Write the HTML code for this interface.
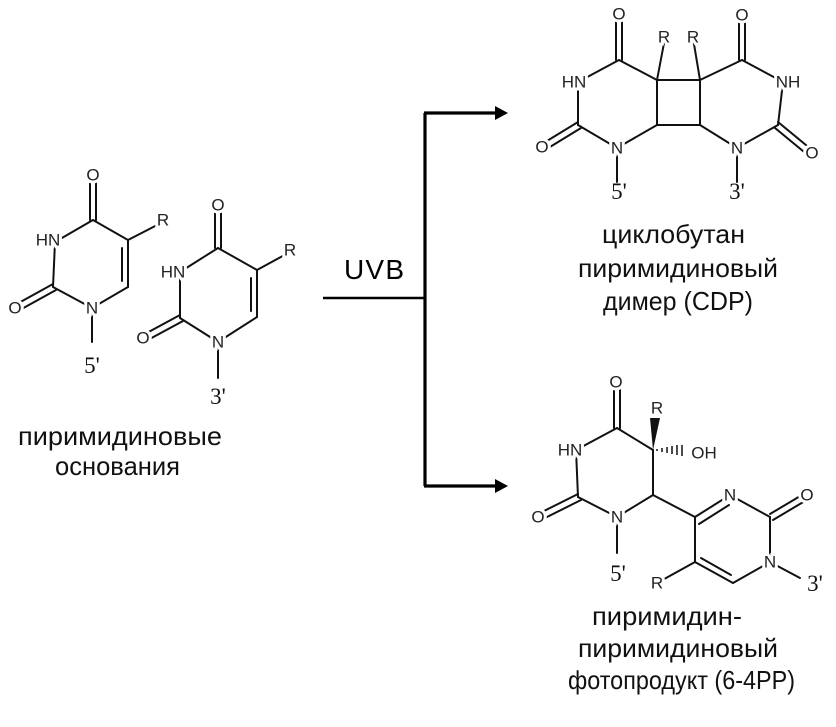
<!DOCTYPE html>
<html><head><meta charset="utf-8"><style>
html,body{margin:0;padding:0;background:#fff}
svg{display:block}
.b{stroke:#111;stroke-width:2;fill:none;stroke-linecap:round}
.a{font-family:"Liberation Sans",sans-serif;font-size:17px;fill:#222;stroke:#fff;stroke-width:6;paint-order:stroke;text-anchor:middle;dominant-baseline:central}
.p{font-family:"Liberation Serif",serif;font-size:23px;fill:#111;text-anchor:middle}
.t{font-family:"Liberation Sans",sans-serif;font-size:26px;fill:#111}
</style></head><body>
<svg width="836" height="727" viewBox="0 0 836 727" xmlns="http://www.w3.org/2000/svg">
<!-- Molecule 1 -->
<g class="b">
<line x1="90" y1="175" x2="90" y2="220"/><line x1="96" y1="175" x2="96" y2="220"/>
<line x1="93" y1="220" x2="55" y2="242"/>
<line x1="93" y1="220" x2="128" y2="240"/>
<line x1="128" y1="240" x2="163" y2="222"/>
<line x1="128" y1="240" x2="128" y2="287"/><line x1="122" y1="248" x2="122" y2="281"/>
<line x1="128" y1="287" x2="92" y2="308"/>
<line x1="92" y1="308" x2="53" y2="287"/>
<line x1="53" y1="287" x2="55" y2="242"/>
<line x1="53" y1="284" x2="15" y2="305"/><line x1="56" y1="290" x2="18" y2="311"/>
<line x1="92" y1="308" x2="92" y2="342"/>
</g>
<text class="a" x="93" y="175">O</text>
<text class="a" x="48" y="240">HN</text>
<text class="a" x="163" y="220">R</text>
<text class="a" x="92" y="308">N</text>
<text class="a" x="15" y="308">O</text>
<text class="p" x="92" y="373">5'</text>
<!-- Molecule 2 -->
<g class="b">
<line x1="215" y1="205" x2="215" y2="248"/><line x1="221" y1="205" x2="221" y2="248"/>
<line x1="218" y1="248" x2="180" y2="272"/>
<line x1="218" y1="248" x2="257" y2="270"/>
<line x1="257" y1="270" x2="290" y2="252"/>
<line x1="257" y1="270" x2="257" y2="317"/><line x1="251" y1="278" x2="251" y2="311"/>
<line x1="257" y1="317" x2="218" y2="342"/>
<line x1="218" y1="342" x2="180" y2="318"/>
<line x1="180" y1="318" x2="180" y2="272"/>
<line x1="180" y1="315" x2="143" y2="335"/><line x1="183" y1="321" x2="146" y2="341"/>
<line x1="218" y1="342" x2="218" y2="378"/>
</g>
<text class="a" x="218" y="205">O</text>
<text class="a" x="173" y="272">HN</text>
<text class="a" x="290" y="250">R</text>
<text class="a" x="218" y="342">N</text>
<text class="a" x="143" y="338">O</text>
<text class="p" x="218" y="404">3'</text>
<!-- Arrows -->
<g stroke="#000" fill="none">
<line x1="323" y1="298" x2="425" y2="298" stroke-width="2.6"/>
<line x1="425" y1="113" x2="425" y2="486" stroke-width="3.2"/>
<line x1="424" y1="113" x2="497" y2="113" stroke-width="3.2"/>
<line x1="424" y1="486" x2="497" y2="486" stroke-width="3.2"/>
</g>
<polygon points="495,106 508,113 495,120" fill="#000"/>
<polygon points="495,479 508,486 495,493" fill="#000"/>
<text x="344" y="279" style="font-family:'Liberation Sans',sans-serif;font-size:28px;fill:#000" textLength="60">UVB</text>
<!-- CPD -->
<g class="b">
<line x1="616" y1="15" x2="616" y2="60"/><line x1="622" y1="15" x2="622" y2="60"/>
<line x1="619" y1="60" x2="578" y2="82"/>
<line x1="619" y1="60" x2="657" y2="80"/>
<line x1="657" y1="80" x2="665" y2="38"/>
<line x1="657" y1="80" x2="700" y2="80"/>
<line x1="700" y1="80" x2="693" y2="38"/>
<line x1="700" y1="80" x2="742" y2="60"/>
<line x1="739" y1="15" x2="739" y2="60"/><line x1="745" y1="15" x2="745" y2="60"/>
<line x1="742" y1="60" x2="783" y2="82"/>
<line x1="657" y1="80" x2="657" y2="125"/>
<line x1="700" y1="80" x2="700" y2="125"/>
<line x1="657" y1="125" x2="700" y2="125"/>
<line x1="657" y1="125" x2="617" y2="148"/>
<line x1="617" y1="148" x2="578" y2="125"/>
<line x1="578" y1="125" x2="578" y2="82"/>
<line x1="578" y1="122" x2="542" y2="144"/><line x1="581" y1="128" x2="545" y2="150"/>
<line x1="617" y1="148" x2="617" y2="182"/>
<line x1="700" y1="125" x2="737" y2="148"/>
<line x1="737" y1="148" x2="778" y2="125"/>
<line x1="778" y1="125" x2="783" y2="82"/>
<line x1="778" y1="122" x2="812" y2="150"/><line x1="775" y1="128" x2="809" y2="156"/>
<line x1="737" y1="148" x2="737" y2="182"/>
</g>
<text class="a" x="619" y="14">O</text>
<text class="a" x="742" y="15">O</text>
<text class="a" x="664" y="37">R</text>
<text class="a" x="693" y="37">R</text>
<text class="a" x="574" y="82">HN</text>
<text class="a" x="788" y="82">NH</text>
<text class="a" x="617" y="148">N</text>
<text class="a" x="737" y="148">N</text>
<text class="a" x="542" y="147">O</text>
<text class="a" x="812" y="153">O</text>
<text class="p" x="619" y="199">5'</text>
<text class="p" x="737" y="199">3'</text>
<!-- 6-4PP -->
<g class="b">
<line x1="614" y1="382" x2="614" y2="428"/><line x1="620" y1="382" x2="620" y2="428"/>
<line x1="617" y1="428" x2="576" y2="450"/>
<line x1="617" y1="428" x2="653" y2="450"/>
<line x1="653" y1="450" x2="653" y2="495"/>
<line x1="653" y1="495" x2="617" y2="517"/>
<line x1="617" y1="517" x2="578" y2="497"/>
<line x1="578" y1="497" x2="576" y2="450"/>
<line x1="578" y1="494" x2="538" y2="514"/><line x1="581" y1="500" x2="541" y2="520"/>
<line x1="617" y1="517" x2="617" y2="553"/>
<line x1="653" y1="495" x2="695" y2="517"/>
<line x1="695" y1="517" x2="730" y2="495"/><line x1="699" y1="524" x2="729" y2="505"/>
<line x1="730" y1="495" x2="770" y2="517"/>
<line x1="770" y1="514" x2="807" y2="492"/><line x1="773" y1="520" x2="810" y2="498"/>
<line x1="770" y1="517" x2="770" y2="562"/>
<line x1="770" y1="562" x2="733" y2="583"/>
<line x1="733" y1="583" x2="695" y2="562"/><line x1="731" y1="575" x2="701" y2="558"/>
<line x1="695" y1="562" x2="695" y2="517"/>
<line x1="695" y1="562" x2="657" y2="583"/>
<line x1="770" y1="562" x2="800" y2="578"/>
</g>
<polygon points="653,450 650,418 660,418" fill="#111"/>
<g stroke="#111" stroke-width="1.5">
<line x1="657" y1="449" x2="657" y2="451"/><line x1="662" y1="448" x2="662" y2="452"/><line x1="667" y1="447" x2="667" y2="453"/><line x1="672" y1="446" x2="672" y2="454"/><line x1="677" y1="445" x2="677" y2="455"/><line x1="682" y1="445" x2="682" y2="456"/>
</g>
<text class="a" x="616" y="382">O</text>
<text class="a" x="657" y="408">R</text>
<text class="a" x="570" y="450">HN</text>
<text class="a" x="704" y="453">OH</text>
<text class="a" x="617" y="517">N</text>
<text class="a" x="538" y="517">O</text>
<text class="a" x="730" y="495">N</text>
<text class="a" x="807" y="495">O</text>
<text class="a" x="770" y="562">N</text>
<text class="a" x="657" y="583">R</text>
<text class="p" x="618" y="581">5'</text>
<text class="p" x="815" y="591">3'</text>
<!-- Labels -->
<text class="t" x="18" y="445" textLength="204" lengthAdjust="spacingAndGlyphs">пиримидиновые</text>
<text class="t" x="55" y="475" textLength="125" lengthAdjust="spacingAndGlyphs">основания</text>
<text class="t" x="602" y="243" textLength="143" lengthAdjust="spacingAndGlyphs">циклобутан</text>
<text class="t" x="578" y="277" textLength="200" lengthAdjust="spacingAndGlyphs">пиримидиновый</text>
<text class="t" x="603" y="310" textLength="150" lengthAdjust="spacingAndGlyphs">димер (CDP)</text>
<text class="t" x="592" y="625" textLength="150" lengthAdjust="spacingAndGlyphs">пиримидин-</text>
<text class="t" x="578" y="657" textLength="200" lengthAdjust="spacingAndGlyphs">пиримидиновый</text>
<text class="t" x="568" y="689" textLength="227" lengthAdjust="spacingAndGlyphs">фотопродукт (6-4PP)</text>
</svg>
</body></html>
